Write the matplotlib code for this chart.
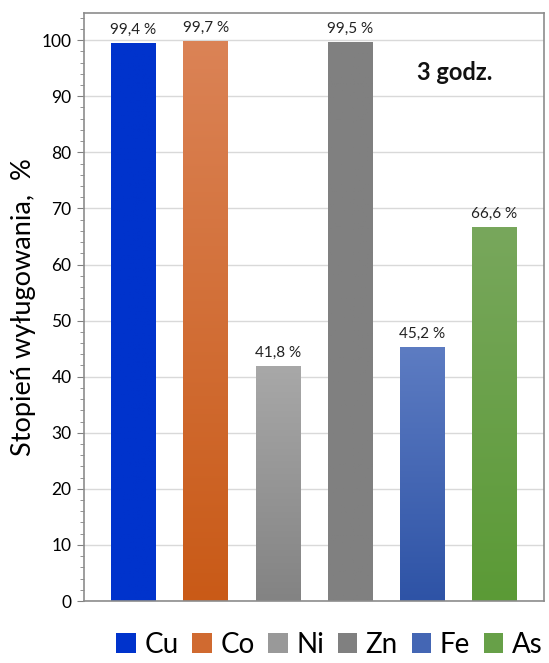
import numpy as np
import matplotlib.pyplot as plt
from matplotlib.colors import LinearSegmentedColormap
from matplotlib.patches import Patch
from matplotlib.ticker import MultipleLocator

plt.rcParams['font.family'] = ['Lato', 'DejaVu Sans']

metals = ['Cu', 'Co', 'Ni', 'Zn', 'Fe', 'As']
leaching = [99.4, 99.7, 41.8, 99.5, 45.2, 66.6]
labels = ['99,4 %', '99,7 %', '41,8 %', '99,5 %', '45,2 %', '66,6 %']
# (top colour, bottom colour) of each bar
colors = [('#0033CC', '#0033CC'),
          ('#DB8356', '#C95A17'),
          ('#A8A8A8', '#838383'),
          ('#808080', '#808080'),
          ('#5D7CC2', '#2E53A6'),
          ('#78A75C', '#5B9A36')]
legend_colors = ['#0033CC', '#D06A30', '#999999', '#808080', '#4466B4', '#67A048']

fig = plt.figure(figsize=(5.49, 6.63), dpi=100)
ax = fig.add_axes([0.153, 0.0935, 0.838, 0.8865])

x = np.arange(len(metals))
width = 0.62
grad = np.linspace(0, 1, 256).reshape(-1, 1)
for xi, h, (top, bot) in zip(x, leaching, colors):
    cmap = LinearSegmentedColormap.from_list('g', [bot, top])
    ax.imshow(grad, cmap=cmap, origin='lower', aspect='auto',
              extent=(xi - width / 2, xi + width / 2, 0, h), zorder=2)

for xi, h, txt in zip(x, leaching, labels):
    ax.annotate(txt, (xi, h), xytext=(0, 5), textcoords='offset points',
                ha='center', va='bottom', fontsize=11, color='#222222')

ax.set_xlim(-0.686, len(metals) - 1 + 0.686)
ax.set_ylim(0, 104.8)
ax.yaxis.set_major_locator(MultipleLocator(10))
ax.yaxis.set_minor_locator(MultipleLocator(2))
ax.set_xticks([])
ax.tick_params(axis='y', which='major', length=5, color='#808080',
               labelsize=12.5, pad=4)
ax.tick_params(axis='y', which='minor', length=3, color='#808080')
ax.grid(axis='y', which='major', color='#D9D9D9', linewidth=1, zorder=0)
ax.set_axisbelow(True)
for s in ax.spines.values():
    s.set_color('#8C8C8C')
    s.set_linewidth(1.2)

ax.set_ylabel('Stopień wyługowania,  %', fontsize=19.5, labelpad=4)
ax.text(0.805, 0.9, '3 godz.', transform=ax.transAxes, ha='center',
        va='center', fontsize=17, fontweight='bold', color='#111111')

handles = [Patch(facecolor=c, edgecolor='none') for c in legend_colors]
fig.legend(handles, metals, loc='lower center', ncol=6,
           bbox_to_anchor=(0.6, -0.03), frameon=False, fontsize=20,
           handlelength=0.7, handleheight=0.7, handletextpad=0.3,
           columnspacing=0.5)

fig.savefig('out.png', dpi=100)
